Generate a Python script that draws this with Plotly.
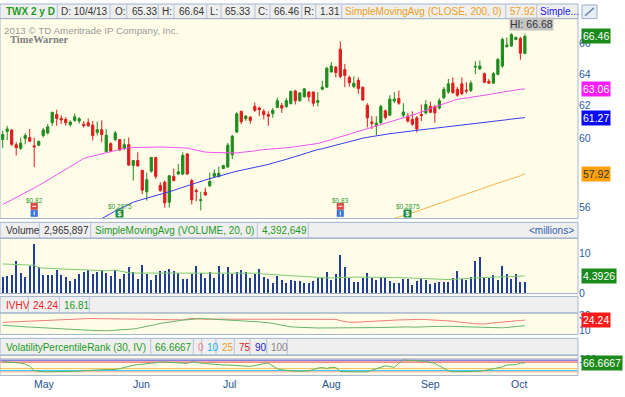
import math
import pandas as pd
import plotly.graph_objects as go

# ---------------------------------------------------------------- data
HOLIDAYS = ["2013-05-27", "2013-07-04", "2013-09-02"]
dates = [d.strftime("%Y-%m-%d") for d in pd.bdate_range("2013-04-22", "2013-10-04")
         if d.strftime("%Y-%m-%d") not in HOLIDAYS]

opens = [
    59.94, 60.43, 60.51, 59.63, 59.40, 60.00, 60.06, 59.56, 59.60, 60.18,
    60.33, 60.96, 61.46, 61.22, 61.16, 60.83, 61.10, 61.06, 60.87, 60.96,
    60.81, 60.37, 60.53, 59.21, 59.69, 59.94, 59.94, 59.40, 59.63, 58.40,
    58.69, 58.12, 56.88, 58.07, 58.87, 57.25, 57.43, 56.29, 57.77, 57.90,
    57.90, 59.08, 57.52, 56.96, 56.38, 56.86, 57.22, 57.77, 57.75, 58.22,
    58.31, 59.03, 60.39, 61.66, 61.20, 61.30, 61.96, 61.86, 61.66, 61.46,
    61.52, 61.90, 62.02, 61.96, 62.14, 62.92, 62.32, 62.56, 62.86, 62.86,
    62.22, 63.04, 63.17, 64.14, 64.45, 65.62, 64.29, 63.79, 63.20, 63.60,
    63.17, 62.02, 61.00, 60.77, 60.96, 61.69, 61.42, 62.30, 62.46, 61.42,
    61.36, 61.16, 61.26, 61.46, 61.56, 61.96, 61.96, 61.86, 62.50, 62.86,
    63.42, 63.03, 63.38, 62.98, 62.96, 64.45, 64.34, 64.03, 63.54, 63.42,
    63.99, 64.52, 65.78, 65.83, 66.26, 66.32, 65.33]
highs = [
    60.47, 60.77, 60.57, 59.78, 60.06, 60.31, 60.57, 60.06, 59.88, 60.63,
    60.87, 61.62, 61.76, 61.42, 61.30, 61.10, 61.52, 61.30, 61.06, 61.22,
    61.06, 61.02, 61.10, 60.57, 59.78, 60.47, 59.96, 59.98, 60.06, 58.71,
    59.18, 58.14, 57.98, 58.89, 58.89, 57.43, 57.52, 57.83, 58.22, 58.50,
    59.18, 59.12, 57.62, 57.07, 56.88, 57.12, 57.98, 58.18, 58.33, 58.42,
    59.73, 60.22, 61.60, 61.68, 61.42, 61.36, 62.20, 61.96, 61.80, 61.66,
    61.86, 62.52, 62.18, 62.50, 62.96, 63.00, 62.86, 63.10, 62.90, 62.88,
    62.86, 63.58, 64.47, 64.78, 64.52, 66.13, 64.66, 63.89, 63.85, 63.79,
    63.19, 62.16, 61.36, 61.36, 62.06, 61.76, 62.66, 62.86, 62.96, 62.16,
    61.56, 61.66, 61.36, 62.08, 62.36, 62.26, 62.06, 62.46, 63.17, 63.69,
    63.79, 63.17, 63.79, 63.48, 63.58, 64.84, 64.88, 64.10, 63.69, 64.14,
    65.04, 66.39, 66.39, 66.68, 66.47, 66.43, 66.64]
lows = [
    59.42, 59.90, 59.54, 58.99, 59.33, 59.65, 59.78, 58.31, 59.54, 60.06,
    60.24, 60.77, 60.77, 60.87, 60.77, 60.73, 61.02, 60.90, 60.67, 60.71,
    59.88, 60.18, 59.78, 59.18, 59.18, 59.84, 59.27, 59.31, 58.40, 57.52,
    58.35, 56.74, 56.38, 57.98, 57.62, 56.88, 55.98, 55.98, 57.50, 57.84,
    57.84, 57.86, 56.16, 56.34, 55.83, 56.65, 57.16, 57.71, 57.71, 58.18,
    58.27, 58.78, 60.33, 60.87, 61.06, 60.90, 61.62, 61.36, 61.16, 60.77,
    61.26, 61.86, 61.56, 61.86, 62.08, 62.08, 62.26, 62.50, 62.26, 61.96,
    61.96, 62.98, 63.13, 64.10, 63.79, 63.73, 63.17, 63.20, 63.10, 62.76,
    62.32, 60.67, 60.57, 60.18, 60.87, 61.16, 61.36, 62.16, 62.06, 61.26,
    60.96, 60.77, 60.37, 61.06, 61.46, 61.56, 60.96, 61.76, 62.42, 62.76,
    62.76, 62.56, 62.66, 62.76, 62.86, 63.99, 64.26, 63.43, 63.38, 63.38,
    63.92, 64.41, 65.74, 65.78, 66.21, 64.93, 65.33]
closes = [
    60.24, 60.57, 59.65, 59.45, 59.72, 60.18, 59.84, 59.50, 59.82, 60.51,
    60.71, 61.60, 61.22, 61.12, 60.96, 61.00, 61.32, 61.20, 60.77, 60.77,
    60.18, 60.53, 60.24, 60.20, 59.26, 60.33, 59.31, 59.63, 58.42, 58.69,
    58.37, 56.97, 57.57, 58.87, 57.77, 56.95, 56.25, 57.80, 57.52, 58.03,
    58.99, 57.90, 56.43, 56.90, 56.43, 56.70, 57.47, 57.94, 57.94, 58.40,
    59.60, 60.14, 61.50, 61.02, 61.36, 61.10, 61.72, 61.76, 61.46, 61.36,
    61.72, 62.32, 61.86, 62.32, 62.90, 62.32, 62.80, 63.06, 62.56, 62.16,
    62.32, 63.17, 64.38, 64.52, 64.10, 63.85, 63.92, 63.45, 63.42, 63.08,
    62.36, 61.26, 60.92, 60.93, 61.96, 61.28, 62.42, 62.42, 62.16, 61.62,
    61.06, 60.87, 60.57, 61.40, 62.08, 61.60, 61.56, 62.32, 63.03, 63.38,
    62.82, 62.66, 62.76, 62.92, 63.42, 64.50, 64.52, 63.48, 63.42, 64.03,
    64.94, 66.26, 65.89, 66.58, 66.39, 65.36, 66.46]

sma50 = [
    56.16, 56.29, 56.40, 56.53, 56.66, 56.82, 56.96, 57.10, 57.24, 57.38,
    57.54, 57.70, 57.86, 58.02, 58.19, 58.35, 58.51, 58.66, 58.81, 58.89,
    58.96, 59.04, 59.11, 59.17, 59.23, 59.28, 59.34, 59.40, 59.44, 59.46,
    59.47, 59.49, 59.50, 59.51, 59.50, 59.49, 59.48, 59.47, 59.46, 59.45,
    59.44, 59.43, 59.36, 59.30, 59.25, 59.19, 59.17, 59.16, 59.15, 59.14,
    59.13, 59.12, 59.14, 59.17, 59.19, 59.22, 59.26, 59.31, 59.33, 59.34,
    59.36, 59.38, 59.40, 59.43, 59.47, 59.51, 59.54, 59.58, 59.61, 59.65,
    59.70, 59.77, 59.85, 59.94, 60.02, 60.09, 60.18, 60.25, 60.33, 60.41,
    60.50, 60.58, 60.67, 60.75, 60.83, 60.90, 60.97, 61.06, 61.14, 61.22,
    61.32, 61.42, 61.51, 61.62, 61.71, 61.82, 61.94, 62.04, 62.15, 62.22,
    62.30, 62.41, 62.45, 62.49, 62.52, 62.55, 62.59, 62.63, 62.70, 62.76,
    62.81, 62.86, 62.90, 62.95, 62.99, 63.03, 63.06]
sma100 = [None] * 21 + [
    55.23, 55.36, 55.51, 55.65, 55.80, 55.93, 56.07, 56.19, 56.29,
    56.37, 56.44, 56.51, 56.59, 56.66, 56.72, 56.79, 56.87, 56.96, 57.05,
    57.14, 57.22, 57.31, 57.40, 57.48, 57.56, 57.63, 57.71, 57.79, 57.86,
    57.94, 58.02, 58.07, 58.12, 58.17, 58.22, 58.27, 58.33, 58.39, 58.46,
    58.54, 58.60, 58.68, 58.76, 58.84, 58.93, 59.02, 59.10, 59.19, 59.26,
    59.34, 59.39, 59.46, 59.53, 59.61, 59.68, 59.76, 59.84, 59.91, 59.96,
    60.02, 60.07, 60.12, 60.16, 60.21, 60.25, 60.29, 60.32, 60.36, 60.39,
    60.43, 60.46, 60.50, 60.54, 60.56, 60.59, 60.62, 60.66, 60.70, 60.73,
    60.76, 60.78, 60.81, 60.84, 60.87, 60.89, 60.92, 60.95, 60.98, 61.02,
    61.06, 61.10, 61.14, 61.18, 61.21, 61.24, 61.27]
sma200 = [None] * 86 + [
    55.31, 55.38, 55.46, 55.53, 55.61, 55.69, 55.78, 55.87, 55.95, 56.04,
    56.13, 56.22, 56.31, 56.40, 56.50, 56.59, 56.67, 56.76, 56.85, 56.94,
    57.03, 57.11, 57.20, 57.29, 57.38, 57.46, 57.54, 57.63, 57.72, 57.80, 57.92]

volume_m = [
    4.15, 4.39, 4.55, 8.21, 5.12, 4.15, 6.83, 12.50, 6.75, 4.55,
    4.55, 4.55, 5.77, 4.55, 4.15, 3.17, 3.74, 4.96, 5.37, 5.77,
    4.96, 5.37, 5.77, 5.12, 4.31, 5.77, 3.74, 4.80, 6.75, 5.37,
    3.74, 7.15, 4.96, 3.50, 4.55, 5.61, 5.61, 6.18, 5.61, 5.12,
    3.58, 3.74, 4.96, 6.83, 5.12, 3.90, 5.37, 3.90, 6.83, 4.96,
    6.59, 4.80, 5.37, 5.77, 5.37, 3.90, 4.96, 6.18, 4.15, 3.74,
    2.68, 4.31, 3.33, 2.52, 3.50, 3.17, 3.17, 2.68, 2.68, 3.17,
    3.98, 3.90, 5.37, 3.50, 4.96, 9.68, 6.59, 3.90, 2.76, 2.76,
    3.90, 5.12, 3.90, 3.50, 4.15, 3.90, 3.17, 2.52, 2.52, 3.74,
    3.74, 2.11, 3.17, 3.98, 3.50, 2.36, 2.52, 2.93, 2.93, 2.93,
    3.90, 5.61, 3.74, 3.50, 4.15, 8.05, 9.02, 3.90, 3.90, 4.55,
    3.33, 6.83, 4.80, 3.74, 4.80, 2.93, 2.965897]
volume_sma20_m = [
    7.40, 7.36, 7.32, 7.32, 7.28, 7.24, 7.16, 7.07, 6.42, 6.34,
    6.26, 6.18, 6.18, 6.14, 6.10, 6.06, 6.02, 5.98, 5.93, 5.89,
    5.77, 5.69, 5.61, 5.69, 5.77, 5.85, 5.61, 5.37, 5.20, 5.12,
    5.12, 5.12, 5.12, 5.16, 5.20, 5.20, 5.20, 5.16, 5.12, 5.12,
    5.12, 5.12, 5.08, 5.12, 5.12, 5.12, 5.12, 5.16, 5.16, 5.12,
    5.12, 5.12, 5.08, 5.08, 5.12, 5.12, 5.12, 5.08, 4.88, 4.80,
    4.72, 4.63, 4.55, 4.47, 4.39, 4.35, 4.31, 4.23, 4.11, 3.98,
    3.90, 3.90, 3.90, 3.90, 3.90, 3.90, 3.98, 4.07, 4.11, 4.15,
    4.11, 4.07, 4.07, 4.02, 4.02, 4.02, 3.98, 3.98, 3.98, 3.94,
    3.90, 3.86, 3.78, 3.70, 3.58, 3.54, 3.50, 3.50, 3.50, 3.50,
    3.54, 3.58, 3.66, 3.74, 3.82, 3.90, 3.98, 4.02, 4.07, 4.11,
    4.15, 4.19, 4.23, 4.27, 4.31, 4.35, 4.392649]

iv = [
    21.2, 21.5, 21.6, 21.9, 22.2, 22.5, 22.9, 23.2, 23.6, 24.1,
    24.3, 24.6, 24.9, 25.2, 25.3, 25.5, 25.8, 26.0, 26.2, 26.2,
    26.2, 26.2, 26.2, 26.2, 26.2, 26.2, 26.2, 26.2, 26.2, 26.2,
    26.0, 25.8, 25.5, 25.3, 25.0, 24.8, 24.6, 24.5, 24.5, 24.5,
    24.5, 25.6, 26.5, 26.0, 25.4, 25.4, 25.4, 25.4, 25.2, 24.9,
    24.7, 24.5, 24.7, 24.9, 25.2, 25.4, 25.1, 24.7, 24.5, 24.5,
    24.5, 24.5, 24.5, 24.5, 24.5, 24.5, 24.5, 24.5, 24.5, 24.5,
    24.5, 24.7, 24.9, 25.2, 25.2, 23.4, 22.3, 21.3, 21.3, 21.5,
    21.7, 21.9, 22.3, 22.8, 23.0, 23.2, 23.6, 24.1, 24.4, 24.7,
    24.9, 25.2, 25.4, 25.2, 24.9, 24.7, 24.5, 24.1, 23.6, 23.4,
    22.8, 21.9, 21.1, 20.2, 19.8, 19.3, 19.1, 18.9, 19.8, 20.4,
    20.9, 21.5, 23.0, 23.2, 23.2, 23.6, 24.24]
hv = [
    17.4, 16.8, 16.4, 15.9, 15.6, 15.2, 14.9, 14.5, 14.3, 14.1,
    13.8, 13.6, 13.4, 12.9, 12.5, 12.1, 11.8, 11.5, 11.1, 10.7,
    10.4, 10.0, 9.9, 10.0, 10.3, 10.6, 10.9, 11.3, 11.8, 12.4,
    13.3, 14.3, 15.5, 16.75, 18.3, 19.8, 20.9, 21.7, 22.7, 23.3,
    24.1, 24.9, 25.5, 26.0, 26.3, 26.0, 25.7, 25.5, 25.3, 25.1,
    24.8, 24.2, 23.8, 23.5, 23.2, 23.0, 22.4, 21.8, 21.2, 20.9,
    19.9, 18.5, 17.2, 15.7, 15.2, 14.8, 14.5, 13.7, 13.7, 13.7,
    13.7, 13.7, 13.7, 13.7, 13.6, 13.3, 13.5, 13.7, 13.7, 13.7,
    13.7, 13.7, 13.9, 14.2, 14.4, 14.6, 14.9, 15.1, 15.4, 15.3,
    15.1, 14.8, 14.6, 15.0, 15.4, 15.7, 15.9, 15.9, 15.9, 15.9,
    15.7, 15.4, 15.0, 14.7, 14.4, 14.2, 13.9, 13.7, 13.7, 13.7,
    13.7, 13.9, 14.4, 14.9, 15.4, 16.0, 16.81]
vpr = [
    78.7, 76.2, 73.7, 70.5, 67.5, 59.9, 43.7, 8.6, 2.3, 0.0,
    0.0, 0.0, 0.0, 0.0, 0.0, 1.1, 2.3, 4.8, 8.6, 11.1,
    13.6, 16.1, 17.4, 17.4, 17.4, 17.4, 24.9, 34.9, 43.7, 49.9,
    54.9, 59.9, 64.9, 67.5, 71.2, 74.2, 75.0, 72.5, 68.7, 66.2,
    62.5, 65.0, 77.5, 75.0, 67.5, 63.7, 59.9, 56.2, 54.9, 52.9,
    51.7, 49.9, 48.7, 46.2, 43.7, 42.4, 47.4, 56.2, 63.7, 67.5,
    47.4, 23.6, 14.8, 9.8, 6.8, 4.8, 5.3, 3.6, 7.3, 16.1,
    28.6, 32.9, 25.9, 34.9, 32.4, 2.3, 0.0, 0.0, 0.0, 0.0,
    0.0, 0.0, 12.3, 24.9, 37.9, 45.9, 39.9, 34.9, 64.9, 91.3,
    88.8, 86.3, 85.0, 86.3, 81.3, 72.5, 64.9, 44.9, 26.1, 8.6,
    0.0, 0.0, 0.0, 0.0, 0.0, 0.8, 4.8, 9.8, 16.1, 23.6,
    30.4, 37.4, 52.4, 52.4, 54.9, 68.7, 66.6667]
vpr_levels = [0, 10, 25, 75, 90, 100]
vpr_level_colors = ["#F4A0A0", "#3CCBF2", "#F7C25A", "#F03C3C", "#3A3AE0", "#B9B4D4"]

price_ticks = [56, 60, 62, 64, 66]
vol_ticks = [0, 10]
iv_ticks = [10, 30]
vpr_ticks = [100]

earnings_dates = ["2013-05-01", "2013-08-07"]
earnings_text = ["$0.82", "$0.83"]
dividend_dates = ["2013-05-29", "2013-08-28"]
dividend_text = ["$0.2875", "$0.2875"]

for arr in (opens, highs, lows, closes, sma50, sma100, sma200, volume_m,
            volume_sma20_m, iv, hv, vpr):
    assert len(arr) == len(dates), len(arr)

# ---------------------------------------------------------------- geometry / style
W, H = 625, 397
FONT = "Liberation Sans, Arial, sans-serif"
FS = 10
XR = 578
XD = [0, XR / W]
XRANGE = [-0.6, 127.8]
PRICE_TOP, PRICE_BOT = 15, 220
VOL_TOP, VOL_BOT = 240.5, 297
IV_TOP, IV_BOT = 317, 339
VPR_TOP, VPR_BOT = 360.5, 381

CREAM = "#FFFDE8"
FRAME = "#A3B5CC"
HEAD_BG = "#EFEFEF"
TICK_C = "#2C5E9E"
C_UP = "#1E8C1E"
C_DN = "#E01B1B"


def pyp(p):
    return 1 - p / H


def pxp(p):
    return p / W


x = list(range(len(dates)))

fig = go.Figure()
fig.add_trace(go.Candlestick(
    x=x, open=opens, high=highs, low=lows, close=closes,
    increasing=dict(line=dict(color=C_UP, width=1), fillcolor=C_UP),
    decreasing=dict(line=dict(color=C_DN, width=1), fillcolor=C_DN),
    whiskerwidth=0, showlegend=False, hoverinfo="skip", xaxis="x", yaxis="y"))
for series, col in ((sma200, "#F7B548"), (sma100, "#3B3BF0"), (sma50, "#F052F0")):
    fig.add_trace(go.Scatter(x=x, y=series, mode="lines", line=dict(color=col, width=1),
                             showlegend=False, hoverinfo="skip", xaxis="x", yaxis="y"))

fig.add_trace(go.Bar(x=x, y=volume_m, width=0.45, marker=dict(color="#1F3E9A", line=dict(width=0)),
                     showlegend=False, hoverinfo="skip", xaxis="x2", yaxis="y2"))
fig.add_trace(go.Scatter(x=x, y=volume_sma20_m, mode="lines", line=dict(color="#7CCB6E", width=1),
                         showlegend=False, hoverinfo="skip", xaxis="x2", yaxis="y2"))

fig.add_trace(go.Scatter(x=x, y=iv, mode="lines", line=dict(color="#F07A7A", width=1),
                         showlegend=False, hoverinfo="skip", xaxis="x3", yaxis="y3"))
fig.add_trace(go.Scatter(x=x, y=hv, mode="lines", line=dict(color="#6BB26B", width=1),
                         showlegend=False, hoverinfo="skip", xaxis="x3", yaxis="y3"))

fig.add_trace(go.Scatter(x=x, y=vpr, mode="lines", line=dict(color="#5DB35D", width=1),
                         showlegend=False, hoverinfo="skip", xaxis="x4", yaxis="y4"))

xcommon = dict(domain=XD, range=XRANGE, showgrid=False, zeroline=False, showticklabels=False,
               ticks="", showline=False, fixedrange=True)
ycommon = dict(showgrid=False, zeroline=False, side="right", ticks="", showline=False,
               fixedrange=True, tickfont=dict(family=FONT, size=FS + 0.5, color=TICK_C))

fig.update_layout(
    width=W, height=H, margin=dict(l=0, r=0, t=0, b=0),
    paper_bgcolor="white", plot_bgcolor=CREAM, showlegend=False,
    font=dict(family=FONT, size=FS, color="#333333"),
    xaxis=dict(**xcommon, anchor="y", rangeslider=dict(visible=False)),
    xaxis2=dict(**xcommon, anchor="y2", matches="x"),
    xaxis3=dict(**xcommon, anchor="y3", matches="x"),
    xaxis4=dict(**xcommon, anchor="y4", matches="x"),
    yaxis=dict(**ycommon, type="log", anchor="x", domain=[pyp(PRICE_BOT), pyp(PRICE_TOP)],
               range=[math.log10(55.38), math.log10(67.66)],
               tickvals=price_ticks, ticktext=[str(t) for t in price_ticks]),
    yaxis2=dict(**ycommon, anchor="x2", domain=[pyp(VOL_BOT), pyp(VOL_TOP)],
                range=[0, 13.78], tickvals=vol_ticks, ticktext=[str(t) for t in vol_ticks]),
    yaxis3=dict(**ycommon, anchor="x3", domain=[pyp(IV_BOT), pyp(IV_TOP)],
                range=[5.06, 33.64], tickvals=iv_ticks, ticktext=[str(t) for t in iv_ticks]),
    yaxis4=dict(**ycommon, anchor="x4", domain=[pyp(VPR_BOT), pyp(VPR_TOP)],
                range=[-27.8, 126.3], tickvals=vpr_ticks, ticktext=[str(t) for t in vpr_ticks]),
    bargap=0,
)

shapes = []
annotations = []


def text(xp, yp, s, color="#333333", size=FS, anchor="left", bold=False, family=FONT, **kw):
    annotations.append(dict(
        x=pxp(xp), y=pyp(yp), xref="paper", yref="paper", text=("<b>%s</b>" % s) if bold else s,
        showarrow=False, xanchor=anchor, yanchor="middle",
        font=dict(family=family, size=size, color=color), **kw))


def header(top, bottom, dividers, items, right_item=None):
    shapes.append(dict(type="rect", xref="paper", yref="paper", x0=0, x1=pxp(XR),
                       y0=pyp(bottom), y1=pyp(top), fillcolor=HEAD_BG,
                       line=dict(color=FRAME, width=1), layer="below"))
    for d in dividers:
        shapes.append(dict(type="line", xref="paper", yref="paper", x0=pxp(d), x1=pxp(d),
                           y0=pyp(bottom), y1=pyp(top), line=dict(color="#B5C3D6", width=1)))
    mid = (top + bottom) / 2 + 0.5
    for s, xs, col, *rest in items:
        text(xs, mid, s, color=col, size=FS, bold=bool(rest and rest[0]))
    if right_item:
        text(right_item[1], mid, right_item[0], color=right_item[2], size=FS, anchor="right")


DARK = "#333333"
GRN = "#1E9B1E"
ORG = "#F0A020"
last_date = pd.Timestamp(dates[-1])
dstr = "%d/%d/%s" % (last_date.month, last_date.day, last_date.strftime("%y"))
header(0, 15, [57.3, 110, 126.7, 158.3, 174, 206.7, 221, 255, 270, 301.7, 315.7, 341.7, 505.7, 536.7], [
    ("TWX 2 y D", 4, GRN, True),
    ("D: " + dstr, 59, DARK),
    ("O:", 113, DARK), ("%.2f" % opens[-1], 130, DARK),
    ("H:", 160, DARK), ("%.2f" % highs[-1], 177, DARK),
    ("L:", 208, DARK), ("%.2f" % lows[-1], 223, DARK),
    ("C:", 256, DARK), ("%.2f" % closes[-1], 272, DARK),
    ("R:", 302, DARK), ("%.2f" % (highs[-1] - lows[-1]), 318, DARK),
    ("SimpleMovingAvg (CLOSE, 200, 0)", 343, ORG),
    ("%.2f" % sma200[-1], 508, ORG),
    ("Simple...", 538, "#2222EE"),
])
header(224, 240, [39.3, 90.7, 257.3, 308.3], [
    ("Volume", 4, DARK),
    ("{:,}".format(int(round(volume_m[-1] * 1e6))), 42, DARK),
    ("SimpleMovingAvg (VOLUME, 20, 0)", 93, GRN),
    ("{:,}".format(int(round(volume_sma20_m[-1] * 1e6))), 260, GRN),
], right_item=("&lt;millions&gt;", 576, "#3060B0"))
header(300, 317, [28.3, 59.3, 89.3], [
    ("IVHV", 4, "#EE2222"), ("%.2f" % iv[-1], 31, "#EE2222"), ("%.2f" % hv[-1], 62, GRN)])
header(343, 360, [150.7, 193.3, 201.7, 216, 234.3, 250, 266.7, 287.3], [
    ("VolatilityPercentileRank (30, IV)", 4, GRN),
    ("%.4f" % vpr[-1], 153, GRN),
    (str(vpr_levels[0]), 196, "#F08080"),
    (str(vpr_levels[1]), 204.5, "#20B0F0"),
    (str(vpr_levels[2]), 220, "#F0A030"),
    (str(vpr_levels[3]), 237, "#E02020"),
    (str(vpr_levels[4]), 253, "#2020D0"),
    (str(vpr_levels[5]), 268.5, "#888888"),
])

# panel frames
for top, bot in ((PRICE_TOP, PRICE_BOT), (VOL_TOP, VOL_BOT), (IV_TOP, IV_BOT), (VPR_TOP, VPR_BOT)):
    shapes.append(dict(type="rect", xref="paper", yref="paper", x0=0, x1=pxp(XR),
                       y0=pyp(bot), y1=pyp(top), line=dict(color=FRAME, width=1)))

# VPR reference levels
for lv, col in zip(vpr_levels, vpr_level_colors):
    shapes.append(dict(type="line", xref="paper", yref="y4", x0=0, x1=pxp(XR), y0=lv, y1=lv,
                       line=dict(color=col, width=1), layer="below"))

# top-right icon
shapes.append(dict(type="rect", xref="paper", yref="paper", x0=pxp(582), x1=pxp(597),
                   y0=pyp(15), y1=pyp(1), fillcolor="#E8EEF5", line=dict(color="#9DB0C8", width=1)))
shapes.append(dict(type="line", xref="paper", yref="paper", x0=pxp(585), x1=pxp(594),
                   y0=pyp(12), y1=pyp(4), line=dict(color="#6A88AE", width=1.5)))

# copyright / logo
text(2, 27, "2013 \u00a9 TD Ameritrade IP Company, Inc.", color="#9A9A9A", size=9.8)
text(8, 36.5, "<b>TimeWarner</b>", color="#808080", size=10.5,
     family="Liberation Serif, Times New Roman, serif")

# value boxes on the right axis
def box(yref, yval, s, bg, fg="white"):
    annotations.append(dict(x=pxp(581), xref="paper", y=yval, yref=yref, text=s,
                            showarrow=False, xanchor="left", yanchor="middle", bgcolor=bg,
                            borderpad=1, font=dict(family=FONT, size=FS + 0.5, color=fg)))


box("y", math.log10(sma200[-1]), "%.2f" % sma200[-1], "#FFA20A", "#333333")
box("y", math.log10(sma100[-1]), "%.2f" % sma100[-1], "#0A0AF5")
box("y", math.log10(sma50[-1]), "%.2f" % sma50[-1], "#FF1CFF")
box("y", math.log10(closes[-1]), "%.2f" % closes[-1], "#1B8A1B")
box("y2", volume_sma20_m[-1], "%.4f" % volume_sma20_m[-1], "#1B8A1B")
box("y3", iv[-1], "%.2f" % iv[-1], "#FF1A1A")
box("y4", vpr[-1], "%.4f" % vpr[-1], "#1B8A1B")

# HI label
hi_idx = max(range(len(highs)), key=lambda i: highs[i])
annotations.append(dict(x=hi_idx, xref="x", y=pyp(20.5), yref="paper",
                        text="HI: %.2f" % highs[hi_idx], showarrow=False, xanchor="left",
                        yanchor="middle", xshift=-2, bgcolor="#C4C4C4", borderpad=0,
                        font=dict(family=FONT, size=FS + 0.5, color="#333333")))

# earnings / dividend markers
for d, s in zip(earnings_dates, earnings_text):
    i = dates.index(d)
    annotations.append(dict(x=i, xref="x", y=pyp(201.5), yref="paper", text=s, showarrow=False,
                            xanchor="center", yanchor="middle",
                            font=dict(family=FONT, size=6.5, color="#2E9B2E")))
    shapes.append(dict(type="rect", xref="x", yref="paper", xsizemode="pixel", xanchor=i,
                       x0=-3.3, x1=3.3, y0=pyp(210.7), y1=pyp(204.3), fillcolor="#E04848",
                       line=dict(color="#C83030", width=0.5)))
    shapes.append(dict(type="line", xref="x", yref="paper", xsizemode="pixel", xanchor=i,
                       x0=-2, x1=2, y0=pyp(207.5), y1=pyp(207.5), line=dict(color="white", width=1)))
    shapes.append(dict(type="rect", xref="x", yref="paper", xsizemode="pixel", xanchor=i,
                       x0=-3.3, x1=3.3, y0=pyp(218), y1=pyp(211.5), fillcolor="#3A78E0",
                       line=dict(color="#2A60C0", width=0.5)))
    shapes.append(dict(type="line", xref="x", yref="paper", xsizemode="pixel", xanchor=i,
                       x0=0, x1=0, y0=pyp(216.8), y1=pyp(212.8), line=dict(color="white", width=1)))
for d, s in zip(dividend_dates, dividend_text):
    i = dates.index(d)
    annotations.append(dict(x=i, xref="x", y=pyp(207.5), yref="paper", text=s, showarrow=False,
                            xanchor="center", yanchor="middle",
                            font=dict(family=FONT, size=6.5, color="#2E9B2E")))
    annotations.append(dict(x=i, xref="x", y=pyp(214.8), yref="paper", text="<b>$</b>",
                            showarrow=False, xanchor="center", yanchor="middle", bgcolor="#1E8C3E",
                            borderpad=0, width=7, height=7,
                            font=dict(family=FONT, size=7, color="white")))

# month labels (left-aligned at first trading day of each month)
prev = None
for i, d in enumerate(dates):
    m = d[5:7]
    if prev is not None and m != prev:
        annotations.append(dict(x=i, xref="x4", y=pyp(390), yref="paper",
                                text=pd.Timestamp(d).strftime("%b"), showarrow=False,
                                xanchor="left", yanchor="middle", xshift=-2,
                                font=dict(family=FONT, size=FS + 0.5, color="#245291")))
    prev = m

fig.update_layout(shapes=shapes, annotations=annotations)
fig.write_html("out.html", config={"displayModeBar": False, "staticPlot": True})

# remove the default page margin so the 625x397 figure fills the window exactly
with open("out.html", encoding="utf-8") as f:
    html = f.read()
html = html.replace("<head>", "<head><style>html,body{margin:0;padding:0;overflow:hidden;}</style>", 1)
with open("out.html", "w", encoding="utf-8") as f:
    f.write(html)
